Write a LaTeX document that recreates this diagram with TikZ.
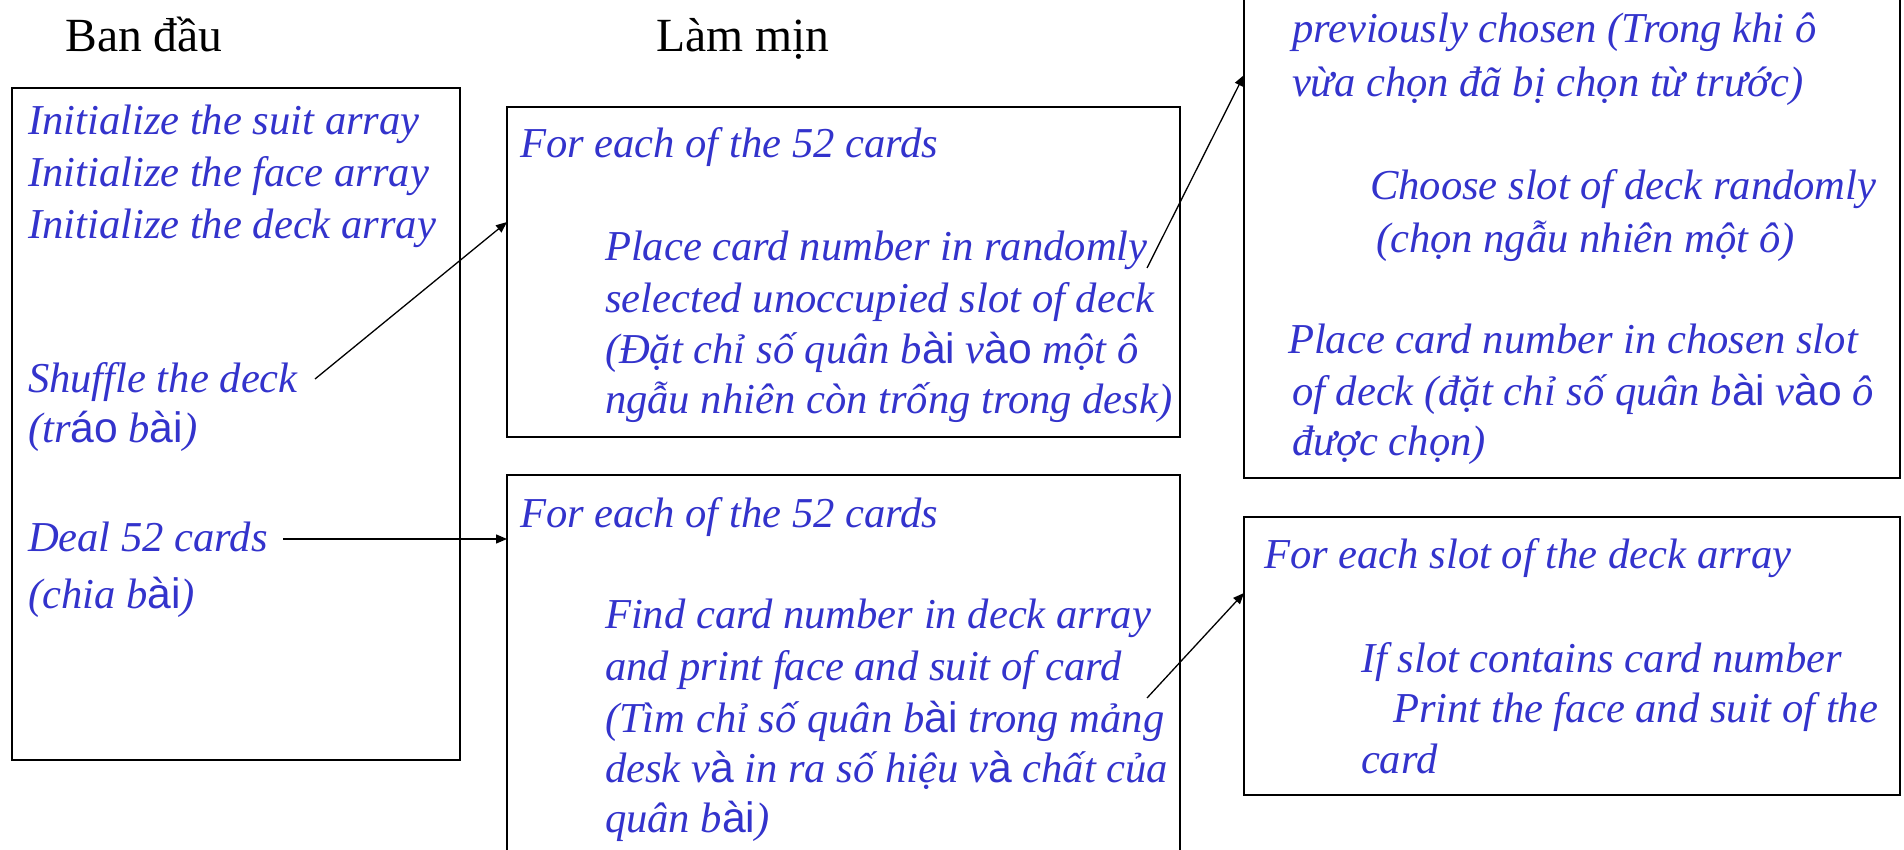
\documentclass[tikz,border=0pt]{standalone}
\usepackage{fontspec}
\setmainfont{Liberation Serif}
\newfontfamily\sansvifont{Liberation Sans}
\newcommand\sansvi[1]{{\sansvifont\upshape #1}}
\usetikzlibrary{arrows.meta,fit}
\definecolor{blueT}{RGB}{51,51,204}
\tikzset{
  txt/.style={anchor=base west, inner sep=0pt, outer sep=0pt, text=blueT,
    font={\itshape\fontsize{21.3}{25}\selectfont}},
  ttl/.style={anchor=base west, inner sep=0pt, text=black,
    font={\fontsize{23.8}{28}\selectfont}},
  boxst/.style={draw=black, line width=0.75pt, inner sep=0pt, fill=none},
  arr/.style={-{Triangle[length=5.5pt,width=4.5pt]}, line width=0.65pt, draw=black}
}
\begin{document}
\begin{tikzpicture}[x=0.5pt,y=-0.5pt]
\useasboundingbox (0,0) rectangle (1904,850);
\fill[white] (0,0) rectangle (1904,850);
\clip (0,0) rectangle (1904,850);

% titles
\node[ttl] (t1) at (65,52) {Ban đầu};
\node[ttl] (t2) at (656,52) {Làm mịn};

% boxes
\coordinate (b1a) at (12,88);   \coordinate (b1b) at (460,760);
\coordinate (b2a) at (507,107); \coordinate (b2b) at (1180,437);
\coordinate (b3a) at (507,475); \coordinate (b3b) at (1180,890);
\coordinate (b4a) at (1244,-30); \coordinate (b4b) at (1900,478);
\coordinate (b5a) at (1244,517); \coordinate (b5b) at (1900,795);
\node[boxst, fit=(b1a)(b1b)] (b1) {};
\node[boxst, fit=(b2a)(b2b)] (b2) {};
\node[boxst, fit=(b3a)(b3b)] (b3) {};
\node[boxst, fit=(b4a)(b4b)] (b4) {};
\node[boxst, fit=(b5a)(b5b)] (b5) {};

% box 1 text
\node[txt] (l1a) at (28,135) {Initialize the suit array};
\node[txt] (l1b) at (28,187) {Initialize the face array};
\node[txt] (l1c) at (28,238) {Initialize the deck array};
\node[txt] (l1d) at (28,392) {Shuffle the deck};
\node[txt] (l1e) at (28,442) {(tr\sansvi{áo} b\sansvi{ài})};
\node[txt] (l1f) at (28,551) {Deal 52 cards};
\node[txt] (l1g) at (28,608) {(chia b\sansvi{ài})};

% box 2 text
\node[txt] (l2a) at (520,158) {For each of the 52 cards};
\node[txt] (l2b) at (605,260) {Place card number in randomly};
\node[txt] (l2c) at (605,312) {selected unoccupied slot of deck};
\node[txt] (l2d) at (605,363) {(Đặt chỉ số quân b\sansvi{ài} v\sansvi{ào} một ô};
\node[txt] (l2e) at (605,413) {ngẫu nhiên còn trống trong desk)};

% box 3 text
\node[txt] (l3a) at (520,527) {For each of the 52 cards};
\node[txt] (l3b) at (605,628) {Find card number in deck array};
\node[txt] (l3c) at (605,680) {and print face and suit of card};
\node[txt] (l3d) at (605,732) {(Tìm chỉ số quân b\sansvi{ài} trong mảng};
\node[txt] (l3e) at (605,782) {desk v\sansvi{à} in ra số hiệu v\sansvi{à} chất của};
\node[txt] (l3f) at (605,832) {quân b\sansvi{ài})};

% box 4 text
\node[txt] (l4a) at (1292,43) {previously chosen (Trong khi ô};
\node[txt] (l4b) at (1292,97) {vừa chọn đã bị chọn từ trước)};
\node[txt] (l4c) at (1370,200) {Choose slot of deck randomly};
\node[txt] (l4d) at (1376,252) {(chọn ngẫu nhiên một ô)};
\node[txt] (l4e) at (1288,353) {Place card number in chosen slot};
\node[txt] (l4f) at (1292,405) {of deck (đặt chỉ số quân b\sansvi{ài} v\sansvi{ào} ô};
\node[txt] (l4g) at (1292,455) {được chọn)};

% box 5 text
\node[txt] (l5a) at (1264,568) {For each slot of the deck array};
\node[txt] (l5b) at (1361,672) {If slot contains card number};
\node[txt] (l5c) at (1393,722) {Print the face and suit of the};
\node[txt] (l5d) at (1361,773) {card};

% connectors
\coordinate (s1) at (315,379);  \coordinate (e1) at (507,222);
\coordinate (s2) at (283,539);  \coordinate (e2) at (507,539);
\coordinate (s3) at (1147,268); \coordinate (e3) at (1244,75);
\coordinate (s4) at (1147,698); \coordinate (e4) at (1244,593);
\draw[arr] (s1) -- (e1);
\draw[arr] (s2) -- (e2);
\draw[arr] (s3) -- (e3);
\draw[arr] (s4) -- (e4);
\end{tikzpicture}
\end{document}
